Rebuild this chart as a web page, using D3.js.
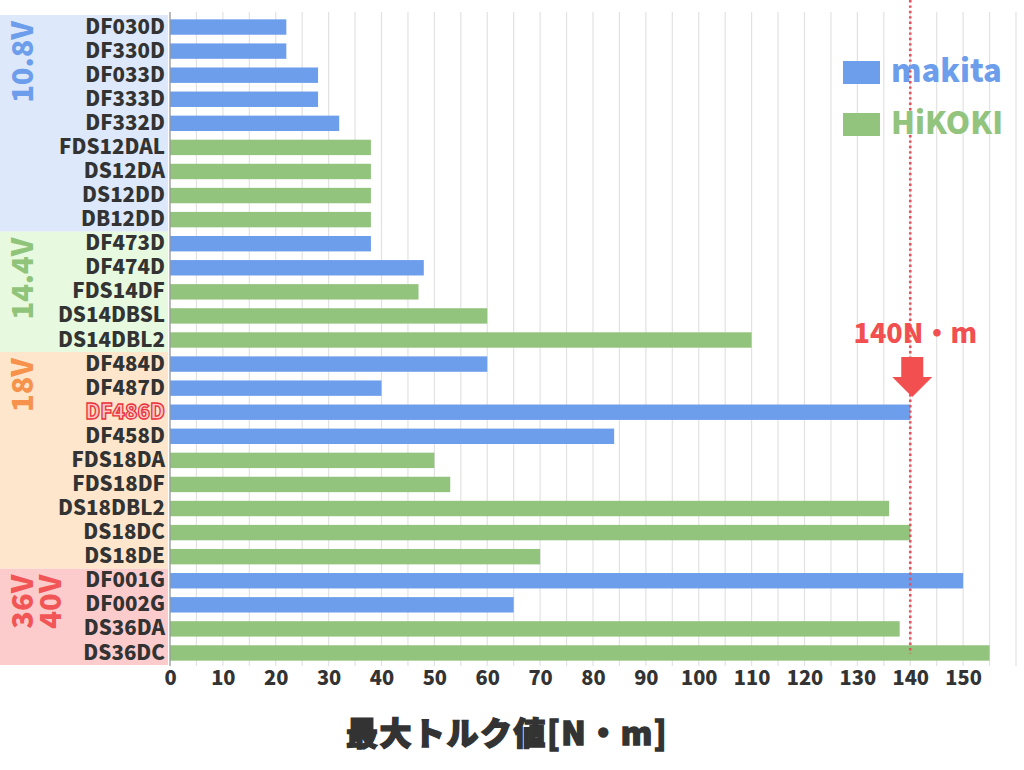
<!DOCTYPE html>
<html><head><meta charset="utf-8">
<script src="https://cdn.jsdelivr.net/npm/d3@7"></script>
<style>html,body{margin:0;padding:0;background:#fff;}svg{display:block;}</style>
</head><body>
<svg id="c" width="1024" height="770"></svg>
<script>
const categories = ["DF030D","DF330D","DF033D","DF333D","DF332D","FDS12DAL","DS12DA","DS12DD","DB12DD",
  "DF473D","DF474D","FDS14DF","DS14DBSL","DS14DBL2",
  "DF484D","DF487D","DF486D","DF458D","FDS18DA","FDS18DF","DS18DBL2","DS18DC","DS18DE",
  "DF001G","DF002G","DS36DA","DS36DC"];
const torque = [22,22,28,28,32,38,38,38,38,
  38,48,47,60,110,
  60,40,140,84,50,53,136,140,70,
  150,65,138,155];
const brand = ["makita","makita","makita","makita","makita","HiKOKI","HiKOKI","HiKOKI","HiKOKI",
  "makita","makita","HiKOKI","HiKOKI","HiKOKI",
  "makita","makita","makita","makita","HiKOKI","HiKOKI","HiKOKI","HiKOKI","HiKOKI",
  "makita","makita","HiKOKI","HiKOKI"];
const brands = ["makita","HiKOKI"];
const groupNames = [["10.8V"],["14.4V"],["18V"],["36V","40V"]];
const groupCounts = [9,5,9,4];
const xTicks = [0,10,20,30,40,50,60,70,80,90,100,110,120,130,140,150];
const highlight = "DF486D";
const refValue = 140;
const refLabel = "140N・m";
const axisTitle = "最大トルク値[N・m]";

const brandColor = d3.scaleOrdinal().domain(brands).range(["#6d9eeb","#93c47d"]);
const groupFill = ["#dde8fa","#e7f9de","#fde6cb","#fccccc"];
const groupText = ["#6d9eeb","#8fc47a","#f6924c","#f25555"];
const FONT = "'Noto Sans CJK JP','Noto Sans',sans-serif";

const svg = d3.select("#c");
const x = d3.scaleLinear().domain([0,160]).range([170,1016]);
const y = d3.scaleBand().domain(categories).range([15,665]).paddingInner(0.36).paddingOuter(0.18);
const step = y.step();

// group bands
let start = 0;
groupCounts.forEach((n,gi)=>{
  const top = y(categories[start]) - (step - y.bandwidth())/2;
  const bot = top + n*step;
  svg.append("rect").attr("x",0).attr("y",top).attr("width",168).attr("height",bot-top).attr("fill",groupFill[gi]);
  groupNames[gi].forEach((t,li)=>{
    const cx = 22 + li*28;
    svg.append("text").attr("transform",`translate(${cx+11},${top+6}) rotate(-90)`)
      .attr("text-anchor","end").attr("font-family",FONT)
      .attr("font-weight",800).attr("font-size",29).attr("fill",groupText[gi]).text(t);
  });
  start += n;
});

// grid
const gridVals = d3.range(0,161,5);
svg.append("g").selectAll("line").data(gridVals).join("line")
  .attr("x1",d=>x(d)).attr("x2",d=>x(d)).attr("y1",12).attr("y2",666)
  .attr("stroke","#e2e2e2").attr("stroke-width",1.2);

// bars
svg.append("g").selectAll("rect").data(categories).join("rect")
  .attr("x",x(0)).attr("y",d=>y(d)).attr("height",y.bandwidth())
  .attr("width",(d,i)=>x(torque[i])-x(0)).attr("fill",(d,i)=>brandColor(brand[i]));

// axis line
svg.append("line").attr("x1",x(0)).attr("x2",x(0)).attr("y1",12).attr("y2",666).attr("stroke","#999").attr("stroke-width",1.2);

// left axis labels
const ya = svg.append("g").attr("transform",`translate(${x(0)-3},0)`).call(d3.axisLeft(y).tickSize(0).tickPadding(2));
ya.select(".domain").remove();
ya.selectAll("text").attr("font-family",FONT).attr("font-weight",900)
  .attr("font-size",20.5).attr("fill","#333")
  .each(function(d){ if(d===highlight){ d3.select(this).attr("fill","#ffc4c4").attr("stroke","#e8323c").attr("stroke-width",1.3);} });

// bottom axis
const xa = svg.append("g").attr("transform",`translate(0,665)`).call(d3.axisBottom(x).tickValues(xTicks).tickSize(0).tickPadding(6));
xa.select(".domain").remove();
xa.selectAll("text").attr("font-family",FONT).attr("font-weight",900)
  .attr("font-size",20).attr("fill","#333");

// axis title
svg.append("text").attr("x",507).attr("y",745).attr("text-anchor","middle")
  .attr("font-family",FONT).attr("font-weight",900).attr("font-size",32)
  .attr("fill","#333").attr("stroke","#333").attr("stroke-width",1.4).attr("letter-spacing",1.5).text(axisTitle);

// reference line
svg.append("line").attr("x1",x(refValue)).attr("x2",x(refValue)).attr("y1",0).attr("y2",654)
  .attr("stroke","#e8505a").attr("stroke-width",2.6).attr("stroke-dasharray","2.4,3");
svg.append("text").attr("x",x(refValue)+5).attr("y",343).attr("text-anchor","middle")
  .attr("font-family",FONT).attr("font-weight",800).attr("font-size",27)
  .attr("fill","#f25050").text(refLabel);
const ax = x(refValue)+2;
svg.append("path").attr("d",`M${ax-11},357 L${ax+11},357 L${ax+11},377 L${ax+20},377 L${ax},397 L${ax-20},377 L${ax-11},377 Z`)
  .attr("fill","#f25050");

// legend
brands.forEach((b,i)=>{
  const ly = 61 + i*52;
  svg.append("rect").attr("x",843).attr("y",ly).attr("width",37).attr("height",23).attr("fill",brandColor(b));
  svg.append("text").attr("x",891).attr("y",ly+21).attr("font-family",FONT)
    .attr("font-weight",800).attr("font-size",31).attr("fill",brandColor(b)).text(b);
});
</script>
</body></html>
